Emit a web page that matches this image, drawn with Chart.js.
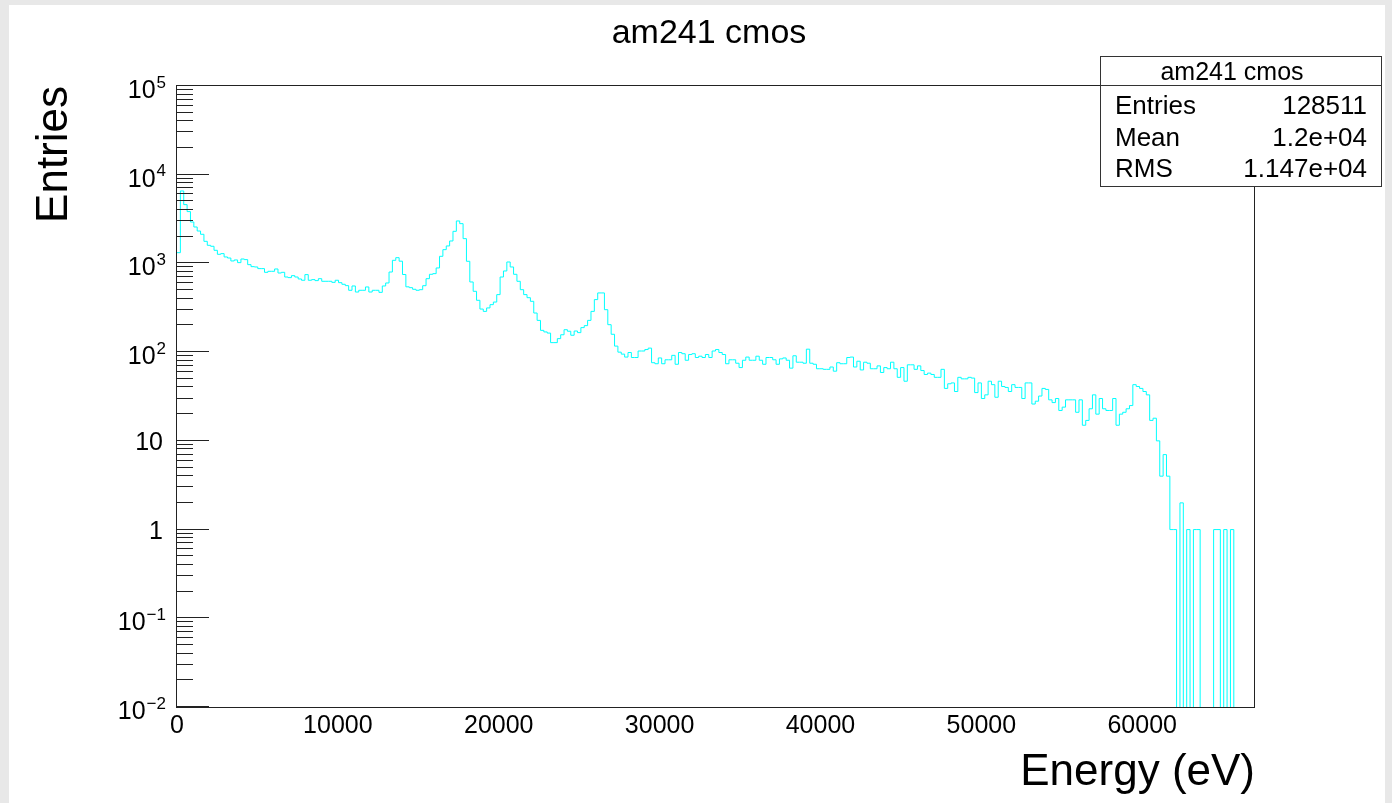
<!DOCTYPE html>
<html>
<head>
<meta charset="utf-8">
<title>am241 cmos</title>
<script src="https://cdn.jsdelivr.net/npm/chart.js@4.4.1/dist/chart.umd.min.js"></script>
<style>
    html, body { margin: 0; padding: 0; background: #e8e8e8; }
    canvas { display: block; }
</style>
</head>
<body>
<canvas id="histChart" width="1392" height="803"></canvas>
<script>
// am241 cmos spectrum, 320 bins from 0 to 66950 eV
const histTitle = "am241 cmos";
const xAxisTitle = "Energy (eV)";
const yAxisTitle = "Entries";
const energyMin = 0;
const energyMax = 66950;

// bin contents
const counts = [
    1322, 6560, 4600, 3840, 2930, 2575, 2320, 2130, 1775, 1600,
    1560, 1406, 1267, 1290, 1183, 1151, 1066, 1094, 1021, 1122,
    1104, 969, 920, 912, 874, 874, 794, 815, 815, 866,
    780, 794, 703, 692, 728, 703, 668, 646, 748, 646,
    657, 640, 673, 629, 629, 629, 612, 646, 607, 582,
    562, 498, 557, 476, 498, 498, 543, 476, 498, 498,
    472, 557, 602, 800, 1084, 1161, 1060, 750, 545,
    533, 511, 498, 506, 561, 673, 754, 767, 889, 1203,
    1430, 1574, 1791, 2301, 3011, 2808, 1903, 1057, 618, 485,
    384, 306, 288, 315, 343, 367, 445, 703, 822, 1038,
    912, 754, 629, 506, 445, 411, 374, 276, 228, 176,
    169, 164, 128, 128, 142, 157, 179, 172, 155, 173,
    166, 189, 199, 228, 288, 391, 465, 465, 301, 204,
    159, 117,
    100, 95, 88, 99, 87, 87, 103, 103, 107, 111,
    76, 74, 86, 74, 82, 82, 92, 73, 99, 96,
    81, 94, 96, 87, 90, 87, 94, 87, 103, 107,
    99, 94, 74, 82, 82, 75, 67, 81, 88, 81,
    81, 90, 81, 73, 87, 87, 82, 73, 84, 86,
    81, 66, 91, 77, 77, 75, 108, 75, 73, 65,
    65, 64, 64, 68, 61, 76, 74, 74, 87,
    88, 68, 79, 63, 77, 75, 65, 65, 70, 59,
    67, 65, 77, 65, 52, 67, 47, 72, 72, 64,
    70, 62, 56, 58, 56, 52, 52, 64, 39, 44,
    45, 36, 52, 50, 50, 52, 51, 35, 45, 30,
    33, 47, 43, 31, 47, 41, 40, 36, 43, 40,
    40, 30, 45, 45, 26, 28, 32, 39, 38, 29,
    27, 30, 22, 24, 29, 29, 29, 21, 29, 15,
    17,
    23, 33, 20, 30, 23, 22, 22, 30, 15, 20,
    21, 23, 25, 43, 41, 39, 36, 33, 17, 18,
    10, 4, 7, 4, 1, 1, 0, 2, 0, 1,
    0, 1, 1, 0, 0, 0, 0, 1, 1, 0,
    1, 0, 1, 0, 0, 0, 0, 0, 0
];

const xTickValues = [0, 10000, 20000, 30000, 40000, 50000, 60000];
const xTickLabels = ["0", "10000", "20000", "30000", "40000", "50000", "60000"];
const yDecades = [-2, -1, 0, 1, 2, 3, 4, 5];

const statsLabels = ["Entries", "Mean", "RMS"];
const statsValues = ["128511", "1.2e+04", "1.147e+04"];

const fontFamily = '"Liberation Sans", Arial, Helvetica, sans-serif';

// log axis drops 0 as a gap, so empty bins go just under the axis floor (clipped)
const emptyBinLevel = 0.001;

let binWidth = (energyMax - energyMin) / counts.length;
let points = counts.map((c, i) => ({ x: energyMin + i * binWidth, y: c > 0 ? c : emptyBinLevel }));
points.push({ x: energyMax, y: emptyBinLevel });

// y labels like ROOT: 1, 10, otherwise 10 with a raised exponent
function drawPowerLabel(ctx, exp, y) {
    ctx.textAlign = "right";
    ctx.textBaseline = "alphabetic";
    if (exp === 0 || exp === 1) {
        ctx.font = "25px " + fontFamily;
        ctx.fillText(exp === 0 ? "1" : "10", 163, y + 9);
        return;
    }
    let sup = exp < 0 ? "\u2212" + Math.abs(exp) : String(exp);
    ctx.font = "17px " + fontFamily;
    ctx.fillText(sup, 166, y + 1.5);
    let supWidth = ctx.measureText(sup).width;
    ctx.font = "25px " + fontFamily;
    ctx.fillText("10", 166 - supWidth - 1, y + 12);
}

const rootStyle = {
    id: "rootStyle",
    beforeDraw(chart) {
        let ctx = chart.ctx;
        ctx.save();
        ctx.fillStyle = "#e8e8e8";
        ctx.fillRect(0, 0, chart.width, chart.height);
        ctx.fillStyle = "#ffffff";
        ctx.fillRect(9, 5, 1376, chart.height - 5);
        ctx.restore();
    },
    afterDraw(chart) {
        let ctx = chart.ctx;
        let area = chart.chartArea;
        let xs = chart.scales.x;
        let ys = chart.scales.y;
        ctx.save();

        // frame
        ctx.strokeStyle = "#222";
        ctx.lineWidth = 1;
        ctx.strokeRect(area.left - 0.5, area.top - 0.5, area.right - area.left + 1, area.bottom - area.top + 1);

        // x ticks every 2000, long ones every 10000
        ctx.beginPath();
        xs.ticks.forEach((t) => {
            if (t.value % 2000 !== 0) return;
            let px = Math.round(xs.getPixelForValue(t.value)) - 0.5;
            let len = t.value % 10000 === 0 ? 18 : 9;
            ctx.moveTo(px, area.bottom);
            ctx.lineTo(px, area.bottom - len);
        });

        // y ticks 1..9 per decade
        yDecades.forEach((d) => {
            for (let m = 1; m <= 9; m++) {
                if (d === yDecades[yDecades.length - 1] && m > 1) break;
                let py = Math.round(ys.getPixelForValue(m * Math.pow(10, d))) - 0.5;
                let len = m === 1 ? 32 : 16;
                ctx.moveTo(area.left, py);
                ctx.lineTo(area.left + len, py);
            }
        });
        ctx.stroke();

        // tick labels
        ctx.fillStyle = "#000";
        ctx.font = "25px " + fontFamily;
        ctx.textAlign = "center";
        ctx.textBaseline = "alphabetic";
        xTickValues.forEach((v, i) => {
            ctx.fillText(xTickLabels[i], xs.getPixelForValue(v), 733);
        });
        yDecades.forEach((d) => {
            drawPowerLabel(ctx, d, ys.getPixelForValue(Math.pow(10, d)));
        });

        // titles
        ctx.font = "34px " + fontFamily;
        ctx.textAlign = "center";
        ctx.fillText(histTitle, 709, 43);

        ctx.font = "44px " + fontFamily;
        ctx.textAlign = "right";
        ctx.fillText(xAxisTitle, area.right + 1, 785);

        ctx.save();
        ctx.translate(67, area.top);
        ctx.rotate(-Math.PI / 2);
        ctx.textAlign = "right";
        ctx.fillText(yAxisTitle, 0, 0);
        ctx.restore();

        // stats box
        ctx.fillStyle = "#fff";
        ctx.fillRect(1100.5, 56.5, 281, 130);
        ctx.strokeStyle = "#333";
        ctx.strokeRect(1100.5, 56.5, 281, 130);
        ctx.beginPath();
        ctx.moveTo(1100.5, 85.5);
        ctx.lineTo(1381.5, 85.5);
        ctx.stroke();

        ctx.fillStyle = "#000";
        ctx.font = "25px " + fontFamily;
        ctx.textAlign = "center";
        ctx.fillText(histTitle, 1232, 80);
        ctx.font = "26px " + fontFamily;
        let rowBase = [114, 145.5, 177];
        statsLabels.forEach((lab, i) => {
            ctx.textAlign = "left";
            ctx.fillText(lab, 1115, rowBase[i]);
            ctx.textAlign = "right";
            ctx.fillText(statsValues[i], 1367, rowBase[i]);
        });

        ctx.restore();
    }
};

function renderHistogram() {
    const ctx = document.getElementById("histChart").getContext("2d");
    window.histChart = new Chart(ctx, {
        type: "line",
        data: {
            datasets: [{
                label: histTitle,
                data: points,
                stepped: "before",
                borderColor: "#00ffff",
                borderWidth: 1,
                pointRadius: 0,
                fill: false
            }]
        },
        options: {
            responsive: false,
            animation: false,
            devicePixelRatio: 1,
            layout: { padding: { left: 177, top: 86, right: 138, bottom: 96 } },
            plugins: {
                legend: { display: false },
                tooltip: { enabled: false },
                title: { display: false }
            },
            scales: {
                x: {
                    type: "linear",
                    display: false,
                    min: energyMin,
                    max: energyMax,
                    ticks: { stepSize: 2000, autoSkip: false }
                },
                y: {
                    type: "logarithmic",
                    display: false,
                    min: 0.01,
                    max: 100000
                }
            }
        },
        plugins: [rootStyle]
    });
}

window.onload = function () {
    renderHistogram();
};
</script>
</body>
</html>
